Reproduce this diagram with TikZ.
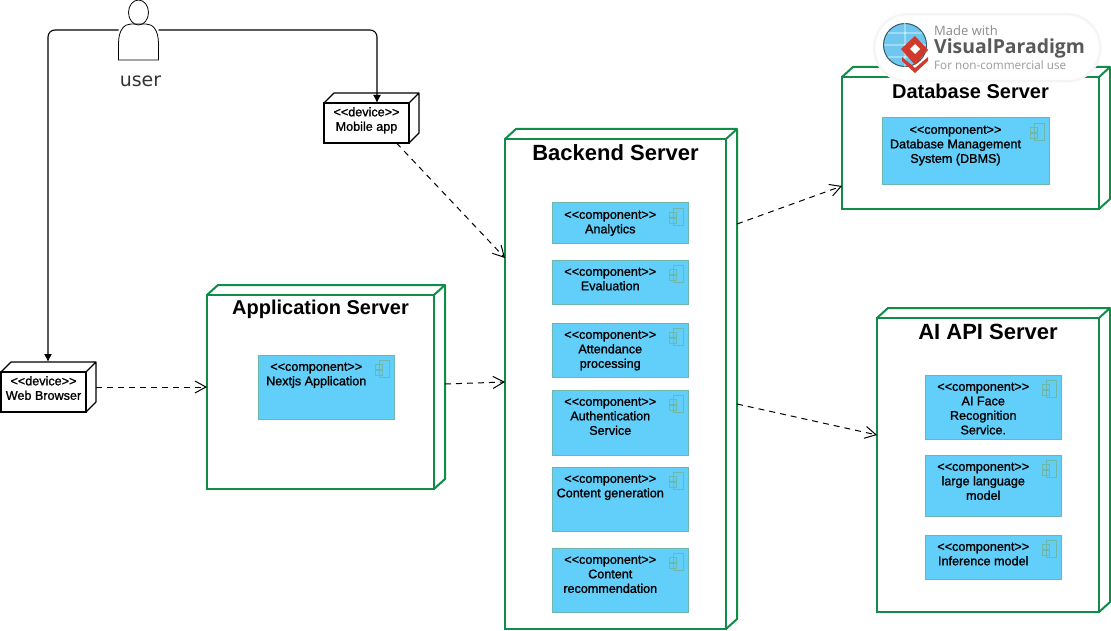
\documentclass[tikz,border=0pt]{standalone}
\usepackage{fontspec}
\usetikzlibrary{arrows.meta, calc, positioning}
\newfontfamily\boxfont[FakeBold=1.2]{Liberation Sans}
\newfontfamily\titlefont{Liberation Sans Bold}
\newfontfamily\userfont{DejaVu Sans}
\newfontfamily\markfont{Open Sans}
\definecolor{srvgreen}{HTML}{0F8C48}
\definecolor{compblue}{HTML}{62CFFB}
\definecolor{compedge}{HTML}{6DB8A8}
\definecolor{globeblue}{HTML}{6FC6EE}
\definecolor{markred}{HTML}{D03A2C}
\tikzset{
  % Server box, front face only: title size, title
  srvbox/.style n args={2}{
    draw=srvgreen, line width=2.4pt, fill=white,
    anchor=north west, inner sep=0pt, outer sep=0pt,
    label={[anchor=center, inner sep=0pt, yshift=-14pt, font=\titlefont\fontsize{#1}{24}\selectfont]north:#2}
  },
  srvline/.style={draw=srvgreen, line width=2pt, line join=round},
  % Device box, front face only
  devbox/.style={
    draw=black, line width=1.2pt, fill=white,
    anchor=north west, inner sep=0pt, outer sep=0pt,
    minimum width=85pt, minimum height=40pt,
    label={[anchor=north, inner sep=0pt, align=center, yshift=-4pt, font=\boxfont\fontsize{12.6}{14.5}\selectfont]north:{<<device>>\\#1}}
  },
  devline/.style={draw=black, line width=1.2pt, line join=round},
  % Component box
  compbox/.style={
    draw=compedge, line width=1pt, fill=compblue,
    anchor=north west, inner sep=0pt, outer sep=0pt,
    minimum width=136.5pt,
    label={[anchor=north, inner sep=0pt, align=center, xshift=-10pt, yshift=-7.5pt, font=\boxfont\fontsize{12.6}{14.5}\selectfont]north:{<<component>>\\#1}}
  },
  iconline/.style={draw=compedge, line width=0.8pt},
  % Connectors
  garr/.style={line width=1.1pt, rounded corners=7pt, -{Latex[length=8pt,width=8pt]}},
  darr/.style={line width=1pt, dash pattern=on 6pt off 5pt, -{Straight Barb[length=11pt,width=12pt]}}
}
\begin{document}
\begin{tikzpicture}[x=1pt, y=-1pt]
  \useasboundingbox (0,0) rectangle (1111,631);

  % servers
  \node (appsrv) [srvbox={20}{Application Server}, minimum width=227pt, minimum height=194pt] at (207,295) {};
  \node (backend) [srvbox={22}{Backend Server}, minimum width=221pt, minimum height=490pt] at (505,139) {};
  \node (dbsrv) [srvbox={20}{Database Server}, minimum width=257pt, minimum height=132pt] at (842,77) {};
  \node (aisrv) [srvbox={22}{AI API Server}, minimum width=222pt, minimum height=294pt] at (877,318) {};
  \foreach \srv in {appsrv,backend,dbsrv,aisrv}
    \draw[srvline] (\srv.north west) -- ++(11,-10) -- ($(\srv.north east)+(11,-10)$)
      -- ($(\srv.south east)+(11,-10)$) -- (\srv.south east)
      (\srv.north east) -- ++(11,-10);

  % devices
  \node (mobile) [devbox={Mobile app}] at (324,103) {};
  \node (browser) [devbox={Web Browser}] at (1,372) {};
  \foreach \dev in {mobile,browser}
    \draw[devline] (\dev.north west) -- ++(10,-10) -- ($(\dev.north east)+(10,-10)$)
      -- ($(\dev.south east)+(10,-10)$) -- (\dev.south east)
      (\dev.north east) -- ++(10,-10);

  % components
  \node (nextjs) [compbox={Nextjs Application}, minimum height=64pt] at (258,355) {};
  \node (analytics) [compbox={Analytics}, minimum height=41pt] at (552,203) {};
  \node (evaluation) [compbox={Evaluation}, minimum height=44pt] at (552,260) {};
  \node (attendance) [compbox={Attendance\\processing}, minimum height=54pt] at (552,323) {};
  \node (authserv) [compbox={Authentication\\Service}, minimum height=65pt] at (552,390) {};
  \node (contentgen) [compbox={Content generation}, minimum height=64pt] at (552,467) {};
  \node (contentrec) [compbox={Content\\recommendation}, minimum height=64pt] at (552,548) {};
  \node (dbms) [compbox={Database Management\\System (DBMS)}, minimum width=167pt, minimum height=67pt] at (882,118) {};
  \node (aiface) [compbox={AI Face\\Recognition\\Service.}, minimum height=64pt] at (925,375) {};
  \node (llm) [compbox={large language\\model}, minimum height=61pt] at (925,455) {};
  \node (inference) [compbox={Inference model}, minimum height=44pt] at (925,535) {};
  \foreach \comp in {nextjs,analytics,evaluation,attendance,authserv,contentgen,contentrec,dbms,aiface,llm,inference}
    \draw[iconline] ([shift={(-15,5)}]\comp.north east) rectangle ++(10,17)
      ([shift={(-19,9)}]\comp.north east) rectangle ++(7,5)
      ([shift={(-19,15)}]\comp.north east) rectangle ++(7,5);

  % user figure
  \node (user) [minimum width=40pt, minimum height=60pt, inner sep=0pt, outer sep=0pt] at (138.5,30) {};
  \draw[line width=0.8pt] (138.5,12.5) ellipse [x radius=10, y radius=12.5];
  \draw[line width=0.8pt] (118.5,60) -- (118.5,44) .. controls (118.5,30) and (124,24) .. (131,24)
    -- (146,24) .. controls (153,24) and (158.5,30) .. (158.5,44) -- (158.5,60) -- cycle;
  \node (userlbl) [below=16pt of user, inner sep=0pt, text=black!80, font=\userfont\fontsize{19}{21}\selectfont, xshift=2pt] {user};

  % connectors
  \coordinate (browserin) at (48,362);
  \coordinate (mobilein) at (377,103);
  \draw[garr] (user.west) -| (browserin);
  \draw[garr] (user.east) -| (mobilein);

  \draw[darr] ([shift={(10,-5)}]browser.east) -- (appsrv.west |- 0,387);
  \draw[darr] ([shift={(11,-8)}]appsrv.east) -- (backend.west |- 0,382);
  \draw[darr] ([xshift=30pt]mobile.south) -- (backend.west |- 0,258);
  \draw[darr] ([xshift=11pt]backend.east |- 0,224) -- (dbsrv.west |- 0,186);
  \draw[darr] ([xshift=11pt]backend.east |- 0,404) -- (aisrv.west |- 0,435);

  % watermark
  \node (markpill) [draw=black!4, line width=2.5pt, fill=white, rounded corners=33pt, minimum width=226pt, minimum height=67pt, anchor=north west, inner sep=0pt] at (873,13) {};
  \node (markglobe) [circle, draw=black!55!globeblue, line width=1pt, fill=globeblue, minimum size=43pt, inner sep=0pt] at (905,45) {};
  \draw[white, line width=0.8pt] (markglobe.north) arc [start angle=90, end angle=270, x radius=10, y radius=21.5]
    (markglobe.north) -- (markglobe.south)
    (884,45) -- (926,45) (888,33) -- (922,33) (888,57) -- (922,57);
  \fill[markred] (902,57) -- (915,68) -- (928,57) -- (928,61) -- (915,73) -- (902,61) -- cycle;
  \fill[markred] (901,49) -- (915,36) -- (928,50) -- (915,65) -- cycle;
  \fill[white] (910,49) -- (915,44) -- (920,49) -- (915,54) -- cycle;
  \node (markmade) [anchor=west, inner sep=0pt, text=black!45, font=\markfont\fontsize{13}{15}\selectfont] at (934,31) {Made with};
  \node (markname) [anchor=west, inner sep=0pt, text=black!65, font=\markfont\bfseries\fontsize{19.4}{24}\selectfont] at (934,48) {VisualParadigm};
  \node (markuse) [anchor=west, inner sep=0pt, text=black!40, font=\markfont\fontsize{11.7}{14}\selectfont] at (934,65) {For non-commercial use};
\end{tikzpicture}
\end{document}
